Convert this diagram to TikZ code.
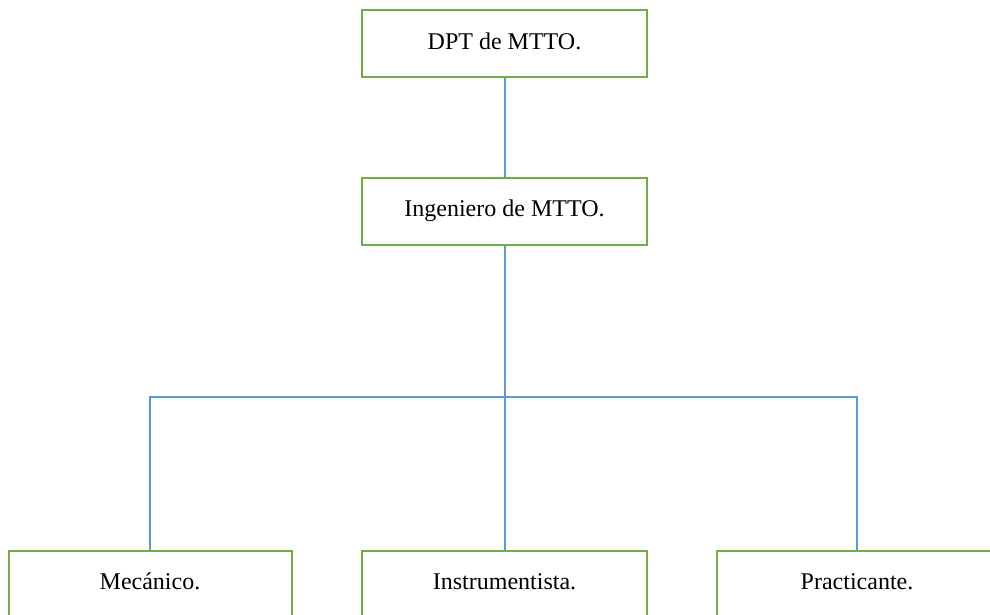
\documentclass[tikz,border=0pt]{standalone}
\usepackage{fontspec}
\setmainfont{Liberation Serif}
\usetikzlibrary{positioning}
\definecolor{boxgreen}{RGB}{112,173,71}
\definecolor{linkblue}{RGB}{91,155,213}
\tikzstyle{puesto} = [rectangle,fill=white,draw=boxgreen,line width=1pt,
minimum width=142.5pt, minimum height=33.5pt, inner sep=0pt,
text height=1.6ex, text depth=0.4ex,
font=\fontsize{12}{12}\selectfont]
\tikzstyle{enlace} = [draw=linkblue,line width=1pt]

\begin{document}
\begin{tikzpicture}[x=0.5pt,y=-0.5pt]
  \useasboundingbox (0,0) rectangle (990,615);
  \clip (0,0) rectangle (990,615);

  \node[puesto] (dpt) at (504.5,43.5) {DPT de MTTO.};
  \node[puesto] (ing) at (504.5,211) {Ingeniero de MTTO.};
  \node[puesto, minimum width=141.5pt] (mec) at (150,584) {Mecánico.};
  \node[puesto] (ins) at (504.5,584) {Instrumentista.};
  \node[puesto, minimum width=140pt] (pra) at (857,584) {Practicante.};

  \coordinate (bus) at (504.5,397);

  \path[enlace] (dpt) -- (ing);
  \path[enlace] (ing) -- (bus);
  \path[enlace] (mec.north) |- (bus) -| (pra.north);
  \path[enlace] (bus) -- (ins.north);
\end{tikzpicture}
\end{document}
